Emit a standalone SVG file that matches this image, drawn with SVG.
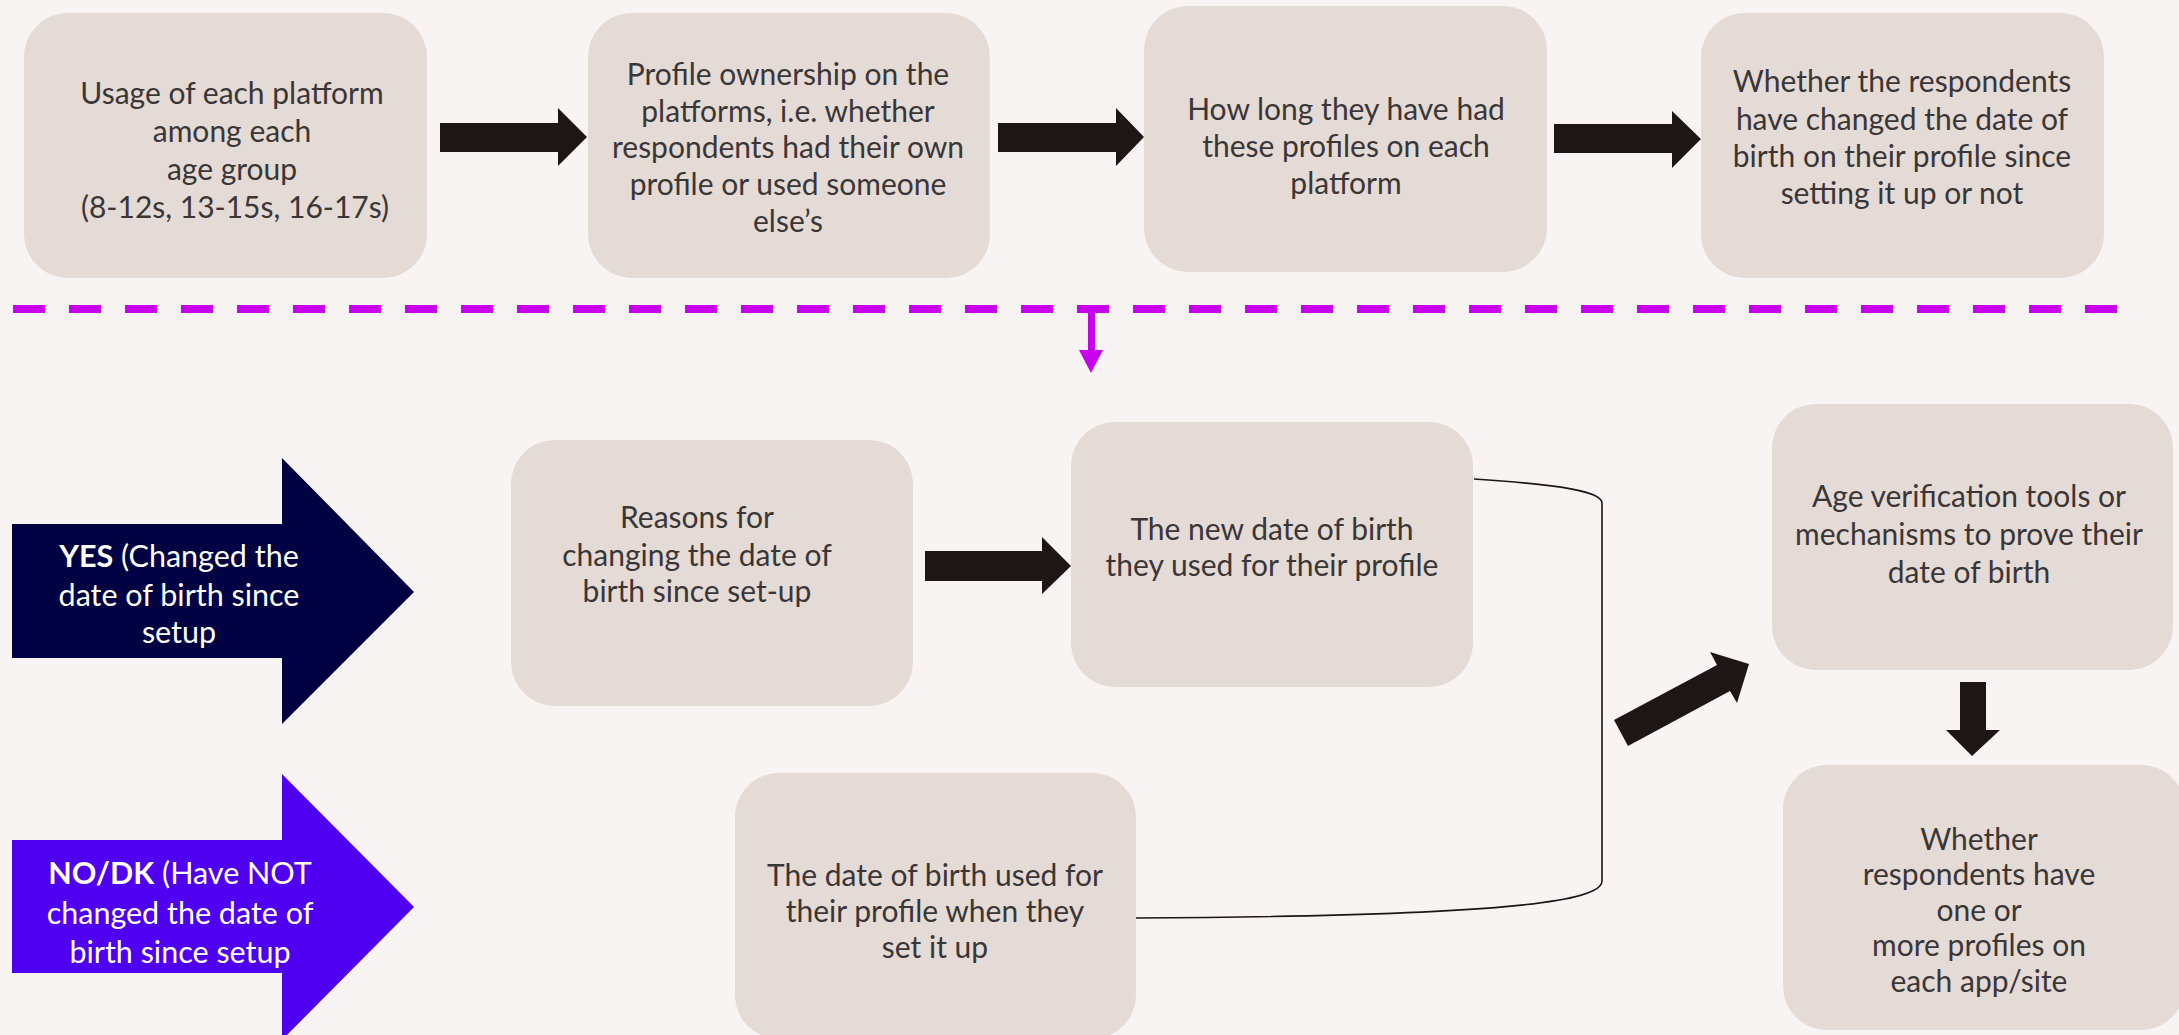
<svg xmlns="http://www.w3.org/2000/svg" width="2179" height="1035" viewBox="0 0 2179 1035">
<style>
.box{fill:#e4dad6}
.t{font-family:Lato,"Liberation Sans",sans-serif;font-size:30px;fill:#3b3636;text-anchor:middle}
.w{font-family:Lato,"Liberation Sans",sans-serif;font-size:30.5px;fill:#ffffff;text-anchor:middle}
.b{font-weight:bold}
.arr{fill:#1e1614}
.dash{stroke:#c800ee;stroke-width:8;stroke-dasharray:32 24;fill:none}
</style>
<rect x="0" y="0" width="2179" height="1035" fill="#f8f4f3"/>

<g id="connectors">
  <line class="dash" x1="13" y1="309" x2="2118" y2="309"/>
  <rect x="1088" y="309" width="7" height="42" fill="#c800ee"/>
  <polygon points="1079,350 1103,350 1091,373" fill="#c800ee"/>
  <polygon class="arr" points="440,123 558,123 558,108 587,137 558,166 558,152 440,152"/>
  <polygon class="arr" points="998,123 1116,123 1116,108 1144,137 1116,166 1116,152 998,152"/>
  <polygon class="arr" points="1554,124 1672,124 1672,111 1701,139 1672,168 1672,153 1554,153"/>
  <polygon class="arr" points="925,551 1042,551 1042,537 1071,566 1042,594 1042,581 925,581"/>
  <polygon class="arr" points="1614,720 1717,665 1710,652 1749,664 1737,703 1730,691 1628,746"/>
  <polygon class="arr" points="1960,682 1986,682 1986,730 2000,730 1972,756 1946,730 1960,730"/>
  <path d="M1474,479 C1565,485 1602,492 1602,503 L1602,881 C1602,902 1500,916 1136,918" fill="none" stroke="#1e1614" stroke-width="1.6"/>
</g>

<g id="node-usage">
  <rect class="box" x="24" y="13" width="403" height="265" rx="44"/>
  <text class="t"><tspan x="232" y="104">Usage of each platform</tspan><tspan x="232" y="142">among each</tspan><tspan x="232" y="180">age group</tspan><tspan x="235" y="218">(8-12s, 13-15s, 16-17s)</tspan></text>
</g>

<g id="node-ownership">
  <rect class="box" x="588" y="13" width="402" height="265" rx="44"/>
  <text class="t"><tspan x="788" y="85">Profile ownership on the</tspan><tspan x="788" y="122">platforms, i.e. whether</tspan><tspan x="788" y="158">respondents had their own</tspan><tspan x="788" y="195">profile or used someone</tspan><tspan x="788" y="232">else’s</tspan></text>
</g>

<g id="node-howlong">
  <rect class="box" x="1144" y="6" width="403" height="266" rx="44"/>
  <text class="t"><tspan x="1346" y="120">How long they have had</tspan><tspan x="1346" y="157">these profiles on each</tspan><tspan x="1346" y="194">platform</tspan></text>
</g>

<g id="node-changed">
  <rect class="box" x="1701" y="13" width="403" height="265" rx="44"/>
  <text class="t"><tspan x="1902" y="92">Whether the respondents</tspan><tspan x="1902" y="130">have changed the date of</tspan><tspan x="1902" y="167">birth on their profile since</tspan><tspan x="1902" y="204">setting it up or not</tspan></text>
</g>

<g id="node-yes">
  <polygon points="12,524 282,524 282,458 414,592 282,724 282,658 12,658" fill="#000043"/>
  <text class="w"><tspan x="179" y="567"><tspan class="b">YES</tspan> (Changed the</tspan><tspan x="179" y="606">date of birth since</tspan><tspan x="179" y="643">setup</tspan></text>
</g>

<g id="node-no">
  <polygon points="12,840 282,840 282,774 414,907 282,1040 282,973 12,973" fill="#5000f0"/>
  <text class="w"><tspan x="180" y="884"><tspan class="b">NO/DK</tspan> (Have NOT</tspan><tspan x="180" y="924">changed the date of</tspan><tspan x="180" y="963">birth since setup</tspan></text>
</g>

<g id="node-reasons">
  <rect class="box" x="511" y="440" width="402" height="266" rx="44"/>
  <text class="t"><tspan x="697" y="528">Reasons for</tspan><tspan x="697" y="566">changing the date of</tspan><tspan x="697" y="602">birth since set-up</tspan></text>
</g>

<g id="node-newdob">
  <rect class="box" x="1071" y="422" width="402" height="265" rx="44"/>
  <text class="t"><tspan x="1272" y="540">The new date of birth</tspan><tspan x="1272" y="576">they used for their profile</tspan></text>
</g>

<g id="node-olddob">
  <rect class="box" x="735" y="773" width="401" height="266" rx="44"/>
  <text class="t"><tspan x="935" y="886">The date of birth used for</tspan><tspan x="935" y="922">their profile when they</tspan><tspan x="935" y="958">set it up</tspan></text>
</g>

<g id="node-ageverif">
  <rect class="box" x="1772" y="404" width="401" height="266" rx="44"/>
  <text class="t"><tspan x="1969" y="507">Age verification tools or</tspan><tspan x="1969" y="545">mechanisms to prove their</tspan><tspan x="1969" y="583">date of birth</tspan></text>
</g>

<g id="node-profiles">
  <rect class="box" x="1783" y="765" width="402" height="265" rx="44"/>
  <text class="t"><tspan x="1979" y="850">Whether</tspan><tspan x="1979" y="885">respondents have</tspan><tspan x="1979" y="921">one or</tspan><tspan x="1979" y="956">more profiles on</tspan><tspan x="1979" y="992">each app/site</tspan></text>
</g>
</svg>
